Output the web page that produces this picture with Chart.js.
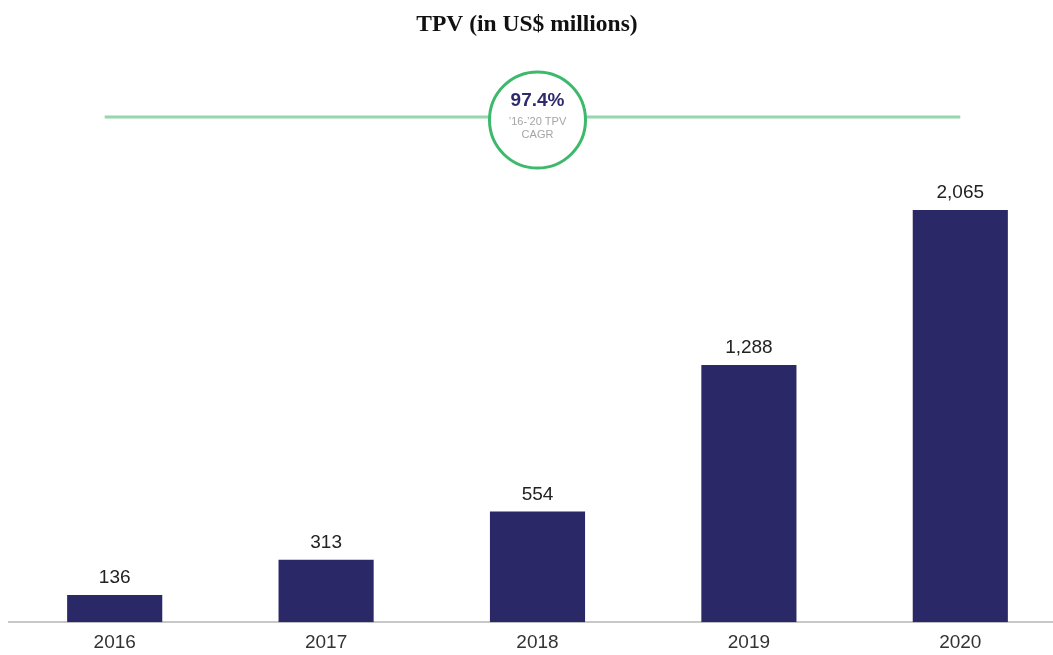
<!DOCTYPE html>
<html>
<head>
<meta charset="utf-8">
<script src="https://cdn.jsdelivr.net/npm/chart.js@4.4.0/dist/chart.umd.min.js"></script>
<style>
html,body{margin:0;padding:0;background:#fff;overflow:hidden;width:1053px;height:655px;}
canvas{display:block;}
</style>
</head>
<body>
<canvas id="c" width="1070" height="670"></canvas>
<script>
const categories = ["2016", "2017", "2018", "2019", "2020"];
const tpvValues = [136, 313, 554, 1288, 2065];
const valueLabels = ["136", "313", "554", "1,288", "2,065"];
const chartTitle = "TPV (in US$ millions)";
const cagrText = "97.4%";
const cagrSub1 = "\u201916-\u201920 TPV";
const cagrSub2 = "CAGR";

const overlay = {
  id: 'overlay',
  afterDatasetsDraw(chart) {
    const ctx = chart.ctx;
    const meta = chart.getDatasetMeta(0);
    ctx.save();
    ctx.textAlign = 'center';
    ctx.textBaseline = 'middle';
    // title
    ctx.fillStyle = '#111';
    ctx.font = 'bold 23.5px "Liberation Serif", "Times New Roman", serif';
    ctx.fillText(chartTitle, 527, 25);
    // value labels
    ctx.fillStyle = '#222';
    ctx.font = '19px "Liberation Sans", Arial, sans-serif';
    meta.data.forEach((bar, i) => {
      ctx.fillText(valueLabels[i], bar.x, bar.y - 17);
    });
    // CAGR line and circle
    const xs = chart.scales.x;
    const cx = xs.getPixelForValue(2);
    const cy = 120;
    const x0 = xs.getPixelForValue(0) - 10;
    const x1 = xs.getPixelForValue(4);
    ctx.strokeStyle = '#95d6ab';
    ctx.lineWidth = 3;
    ctx.beginPath();
    ctx.moveTo(x0, 117);
    ctx.lineTo(x1, 117);
    ctx.stroke();
    ctx.beginPath();
    ctx.arc(cx, cy, 48, 0, Math.PI * 2);
    ctx.fillStyle = '#fff';
    ctx.fill();
    ctx.strokeStyle = '#3cb96b';
    ctx.lineWidth = 3;
    ctx.stroke();
    ctx.fillStyle = '#2d2b6b';
    ctx.font = 'bold 19px "Liberation Sans", Arial, sans-serif';
    ctx.fillText(cagrText, cx, 101);
    ctx.fillStyle = '#a5a5a5';
    ctx.font = '11px "Liberation Sans", Arial, sans-serif';
    ctx.fillText(cagrSub1, cx, 122);
    ctx.fillText(cagrSub2, cx, 135);
    ctx.restore();
  }
};

new Chart(document.getElementById('c'), {
  type: 'bar',
  data: {
    labels: categories,
    datasets: [{
      data: tpvValues,
      backgroundColor: '#2a2866',
      borderWidth: 0,
      categoryPercentage: 1,
      barPercentage: 0.45
    }]
  },
  options: {
    responsive: false,
    animation: false,
    layout: { padding: { left: 9, right: 4, top: 163, bottom: 7 } },
    plugins: {
      legend: { display: false },
      tooltip: { enabled: false },
      title: { display: false }
    },
    scales: {
      x: {
        grid: { display: false, drawTicks: false },
        border: { display: true, color: '#c8c8c8', width: 2 },
        ticks: {
          color: '#333',
          padding: 9,
          font: { family: '"Liberation Sans", Arial, sans-serif', size: 19 }
        }
      },
      y: {
        display: false,
        min: 0,
        max: 2300
      }
    }
  },
  plugins: [overlay]
});
</script>
</body>
</html>
